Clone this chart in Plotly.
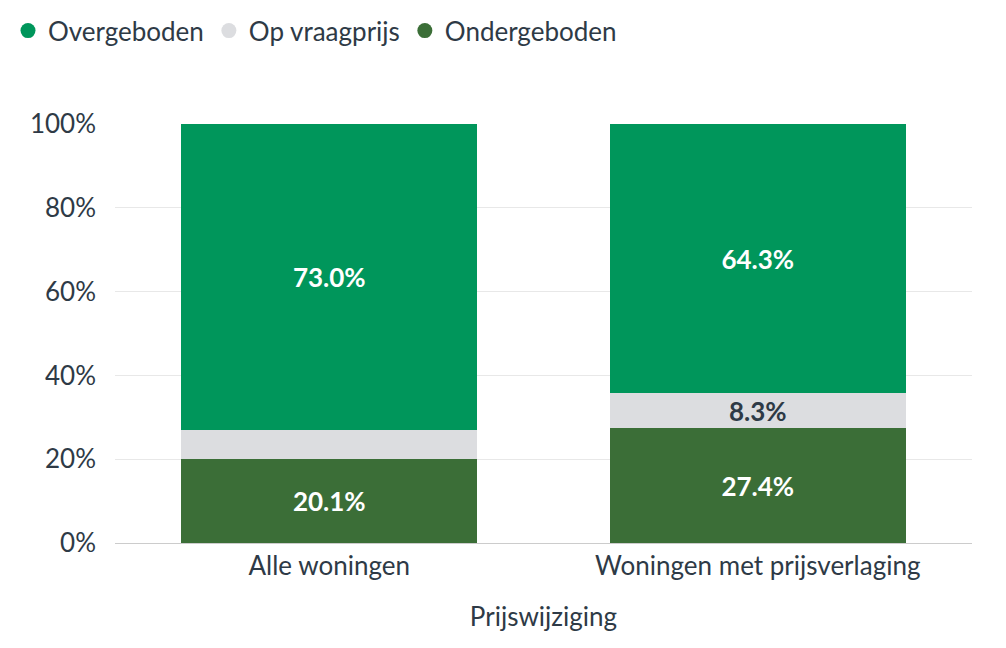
import plotly.graph_objects as go

categories = ["Alle woningen", "Woningen met prijsverlaging"]
ondergeboden = [20.1, 27.4]
op_vraagprijs = [6.9, 8.3]
overgeboden = [73.0, 64.3]

tick_vals = [0, 20, 40, 60, 80, 100]
tick_text = ["0%", "20%", "40%", "60%", "80%", "100%"]

font = "Lato"
txt = "#2e3a46"


def labels(vals, minv=8):
    return [f"{v:.1f}%" if v >= minv else "" for v in vals]


fig = go.Figure()

series = [
    ("Ondergeboden", ondergeboden, "#3b6e37", "white"),
    ("Op vraagprijs", op_vraagprijs, "#dcdde0", txt),
    ("Overgeboden", overgeboden, "#00965b", "white"),
]

for name, vals, col, tcol in series:
    fig.add_trace(go.Bar(
        x=categories, y=vals, name=name,
        marker=dict(color=col, line=dict(width=0)),
        text=labels(vals), textposition="inside", insidetextanchor="middle",
        textfont=dict(family=font, size=26, color=tcol, weight="bold"),
        textangle=0, constraintext="none",
        showlegend=False, hoverinfo="skip",
    ))

# legend entries with round markers
for name, vals, col, tcol in reversed(series):
    fig.add_trace(go.Scatter(
        x=[None], y=[None], mode="markers", name=name,
        marker=dict(color=col, size=15, symbol="circle"),
    ))

fig.update_layout(
    barmode="stack",
    bargap=0.31,
    width=1006, height=648,
    margin=dict(l=107, r=42, t=116, b=113),
    plot_bgcolor="white", paper_bgcolor="white",
    font=dict(family=font, size=26, color=txt),
    legend=dict(
        orientation="h", xref="container", yref="container",
        x=0.0, y=0.965, xanchor="left", yanchor="middle",
        font=dict(family=font, size=26, color=txt),
        traceorder="normal", itemwidth=30,
    ),
    xaxis=dict(
        title=dict(text="Prijswijziging", font=dict(size=26, color=txt), standoff=27),
        showline=True, linecolor="#cccccc", linewidth=1,
        ticks="", tickfont=dict(size=26, color=txt),
    ),
    yaxis=dict(
        range=[0, 100], tickvals=tick_vals, ticktext=tick_text,
        showgrid=True, gridcolor="#e8e8e8", gridwidth=1,
        zeroline=False, ticks="", ticklabelstandoff=18,
        tickfont=dict(size=26, color=txt),
    ),
)

fig.write_html("out.html")
